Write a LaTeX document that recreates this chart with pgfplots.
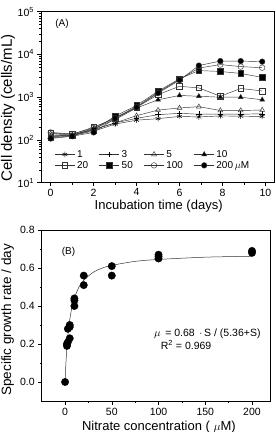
\documentclass[border=0pt]{standalone}
\usepackage{fontspec}
\setmainfont{Liberation Sans}
\usepackage{pgfplots}
\pgfplotsset{compat=1.18}

\pgfplotsset{
  panel/.style={
    scale only axis,
    axis line style={line width=0.6pt},
    tick align=outside,
    tick pos=left,
    major tick length=3.5pt,
    minor tick length=2pt,
    every tick/.style={black, line width=0.5pt},
    tick label style={font=\fontsize{10.5}{12}\selectfont},
    label style={font=\fontsize{13}{15}\selectfont},
    /pgf/number format/assume math mode=true,
  },
  series/.style={black!80, line width=0.45pt, mark size=2.8pt, mark options={solid, black}},
}

\begin{document}
\begin{tikzpicture}
\useasboundingbox (0,0) rectangle (276pt,432pt);

% (A) growth curves at different nitrate concentrations
\begin{axis}[panel,
  at={(41pt,249.3pt)}, anchor=south west,
  width=233pt, height=171pt,
  xmin=-0.45, xmax=10.4,
  ymode=log, ymin=10, ymax=1e5,
  xtick={0,2,...,10}, minor x tick num=1,
  ytick={10,100,1000,10000,100000},
  yticklabels={10\textsuperscript{1},10\textsuperscript{2},10\textsuperscript{3},10\textsuperscript{4},10\textsuperscript{5}},
  xticklabel style={yshift=1pt},
  xlabel={Incubation time (days)},
  ylabel={Cell density (cells/mL)},
  xlabel style={at={(axis description cs:0.505,-0.155)}, anchor=base},
  ylabel style={at={(axis description cs:-0.125,0.437)}, anchor=base, font=\fontsize{15}{17}\selectfont},
  legend columns=4,
  legend cell align=left,
  legend style={draw=none, fill=none, at={(rel axis cs:0.045,0.215)}, anchor=north west,
    font=\fontsize{10}{12}\selectfont, row sep=-1.5pt,
    /tikz/every even column/.append style={column sep=9pt}},
  legend image code/.code={\draw[mark repeat=2,mark phase=2] plot coordinates {(0pt,0pt) (10pt,0pt) (20pt,0pt)};},
]
\addplot[series, mark=asterisk] coordinates {
 (0,125) (1,128) (2,160) (3,235) (4,290) (5,315) (6,355) (6.9,345) (7.9,365) (8.85,360) (9.85,355)};
\addlegendentry{1}
\addplot[series, mark=+] coordinates {
 (0,120) (1,132) (2,175) (3,250) (4,320) (5,390) (6,420) (6.9,400) (7.9,400) (8.85,400) (9.85,410)};
\addlegendentry{3}
\addplot[series, mark=triangle, mark options={fill=white}] coordinates {
 (0,140) (1,130) (2,175) (3,250) (4,370) (5,500) (6,560) (6.9,600) (7.9,490) (8.85,490) (9.85,500)};
\addlegendentry{5}
\addplot[series, mark=triangle*, mark options={fill=black}] coordinates {
 (0,118) (1,128) (2,185) (3,300) (4,560) (5,870) (6,1100) (6.9,1050) (7.9,1000) (8.85,1000) (9.85,870)};
\addlegendentry{10}
\addplot[series, mark=square, mark options={fill=white}] coordinates {
 (0,145) (1,135) (2,200) (3,320) (4,580) (5,1150) (6,1800) (6.9,1650) (7.9,1050) (8.85,1600) (9.85,1400)};
\addlegendentry{20}
\addplot[series, mark=square*, mark options={fill=black}] coordinates {
 (0,112) (1,125) (2,170) (3,360) (4,640) (5,1380) (6,2700) (6.9,4200) (7.9,4000) (8.85,3600) (9.85,2900)};
\addlegendentry{50}
\addplot[series, mark=o, mark options={fill=white}] coordinates {
 (0,150) (1,138) (2,190) (3,330) (4,600) (5,1300) (6,2600) (6.9,4800) (7.9,5800) (8.85,5200) (9.85,4900)};
\addlegendentry{100}
\addplot[series, mark=*, mark options={fill=black}] coordinates {
 (0,108) (1,122) (2,150) (3,320) (4,580) (5,1250) (6,2500) (6.9,5500) (7.9,7000) (8.85,7000) (9.85,6800)};
\addlegendentry{200\,$\mu$M}
\node[anchor=center, font=\fontsize{10}{12}\selectfont] at (rel axis cs:0.09,0.928) {(A)};
\end{axis}

% (B) specific growth rate versus nitrate concentration
\begin{axis}[panel,
  at={(41.7pt,31pt)}, anchor=south west,
  width=229pt, height=171pt,
  xmin=-25, xmax=220,
  ymin=-0.1, ymax=0.8,
  xtick={0,50,...,200}, minor x tick num=1,
  ytick={0,0.2,...,0.8}, minor y tick num=1,
  yticklabel style={/pgf/number format/.cd, fixed, fixed zerofill, precision=1},
  xlabel={Nitrate concentration ( $\mu$M)},
  ylabel={Specific growth rate / day},
  xlabel style={at={(axis description cs:0.512,-0.171)}, anchor=base},
  ylabel style={at={(axis description cs:-0.134,0.474)}, anchor=base, font=\fontsize{13.5}{15}\selectfont},
]
% fitted curve, mu = 0.68 S / (5.36 + S)
\addplot[black!80, line width=0.5pt, smooth] coordinates {
 (0,0) (0.5,0.058) (1,0.107) (2,0.185) (3,0.244) (5,0.328) (7.5,0.397) (10,0.443)
 (15,0.501) (20,0.536) (30,0.577) (40,0.600) (50,0.614) (75,0.635) (100,0.645)
 (150,0.657) (200,0.662)};
% measured rates
\addplot[only marks, mark=*, mark size=3.7pt, black] coordinates {
 (0,0.0) (2,0.19) (2,0.20) (3,0.21) (3,0.28) (5,0.23) (5,0.29) (5,0.30)
 (10,0.40) (10,0.43) (10,0.44) (20,0.51) (20,0.56) (50,0.56) (50,0.61)
 (100,0.65) (100,0.66) (100,0.67) (200,0.68) (200,0.69)};
\node[anchor=west, font=\fontsize{10.5}{12}\selectfont] at (rel axis cs:0.475,0.394) {$\mu$\, = 0.68 \,$\cdot$\,S / (5.36+S)};
\node[anchor=west, font=\fontsize{10.5}{12}\selectfont] at (rel axis cs:0.505,0.328) {R\textsuperscript{2} = 0.969};
\node[anchor=center, font=\fontsize{10}{12}\selectfont] at (rel axis cs:0.117,0.872) {(B)};
\end{axis}
\end{tikzpicture}
\end{document}
